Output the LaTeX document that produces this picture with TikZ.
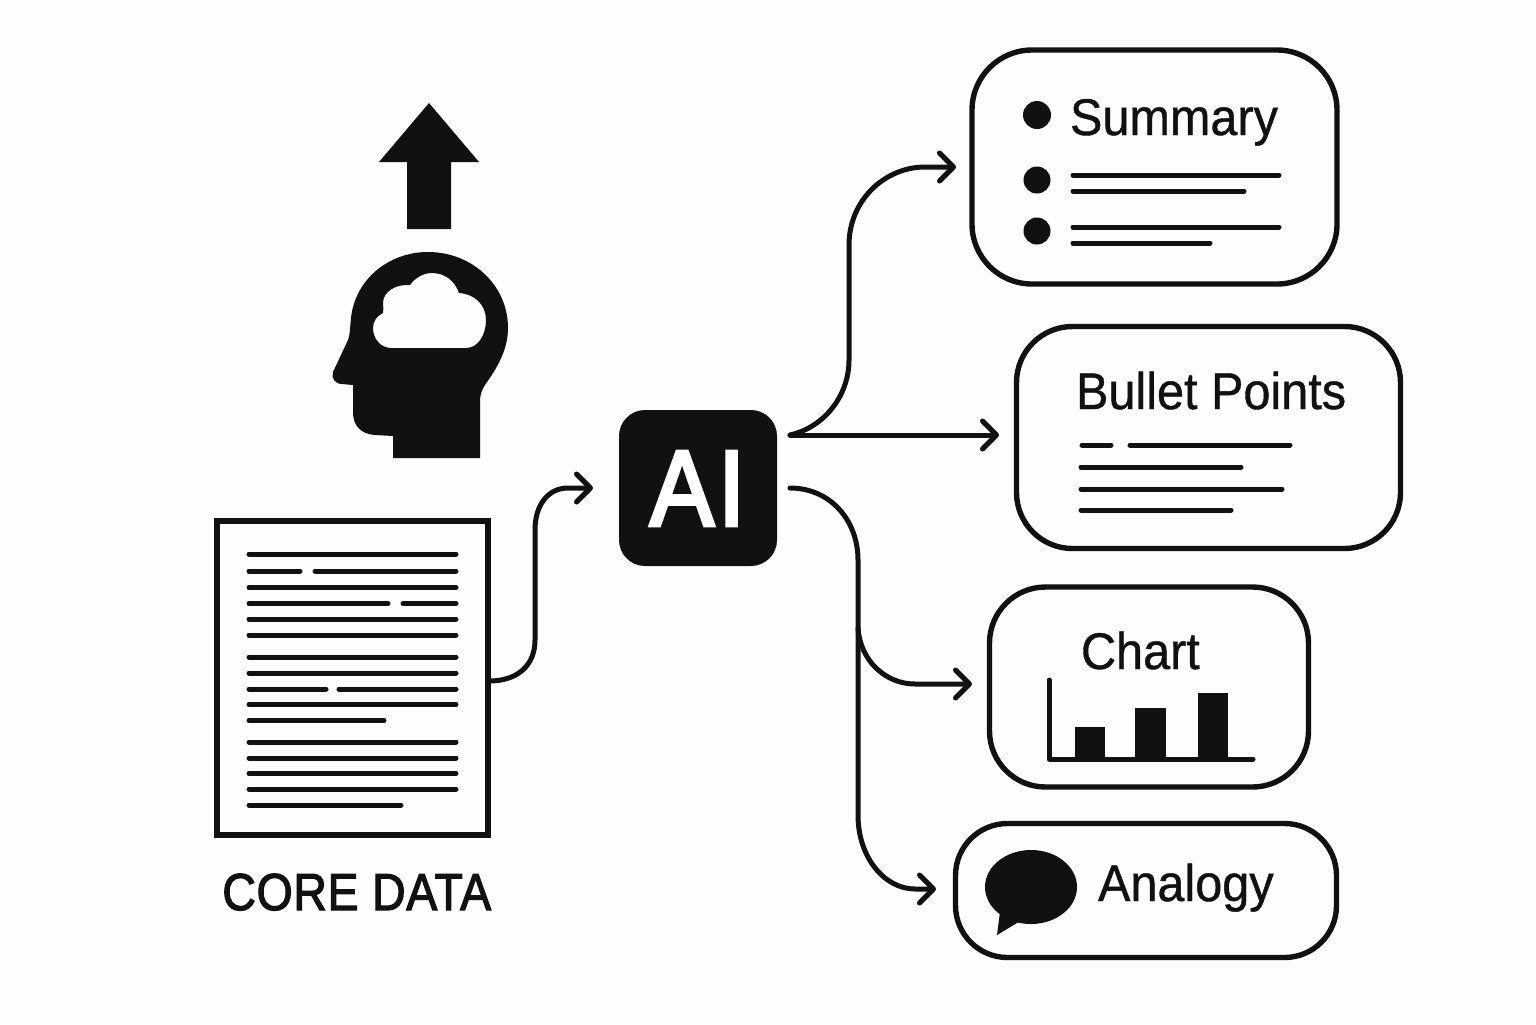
\documentclass[tikz,border=0pt]{standalone}
\usepackage{graphicx}
\usepackage{fontspec}
\setmainfont{Liberation Sans}
\newfontfamily\lightmed[FakeBold=0.8]{Liberation Sans}
\newfontfamily\coremed[FakeBold=2.5,LetterSpace=1.5]{Liberation Sans}
\newfontfamily\aimed[FakeBold=3.5]{Liberation Sans}
\newcommand{\tallabel}[1]{\scalebox{1}[1.06]{#1}}
\usetikzlibrary{arrows.meta}
\definecolor{ink}{HTML}{111111}
\definecolor{paper}{HTML}{FDFDFD}
\tikzset{
  x=0.5pt,y=-0.5pt,
  box/.style={draw=ink,line width=2.7pt,fill=none,inner sep=0pt,outer sep=0pt},
  conn/.style={draw=ink,line width=2.5pt,line cap=round,line join=round},
  arr/.style={conn,-{Straight Barb[length=7pt,width=14pt,round]}},
  rule/.style={draw=ink,line width=2.5pt,line cap=round},
  solid ink/.style={fill=ink,draw=none},
  lab/.style={anchor=base west,inner sep=0pt,outer sep=0pt,text=ink,font=\lightmed\fontsize{24.3}{24}\selectfont},
}
\begin{document}
\begin{tikzpicture}
\useasboundingbox (0,0) rectangle (1536,1024);
\fill[paper] (0,0) rectangle (1536,1024);

% up arrow
\fill[ink] (429,103) -- (479,162) -- (451,162) -- (451,229) -- (407,229) -- (407,162) -- (379,162) -- cycle;

% head with cloud cutout
\path[solid ink,even odd rule]
 (393,458) -- (393,436) -- (375,435)
 .. controls (360,434) and (353,425) .. (353,412)
 -- (353,385) -- (342,384)
 .. controls (335,384) and (331,378) .. (333,372)
 -- (348,340)
 .. controls (350,335) and (350,328) .. (351,318)
 .. controls (355,280) and (388,252) .. (428,252)
 .. controls (472,252) and (508,285) .. (508,328)
 .. controls (508,350) and (497,368) .. (485,385)
 .. controls (481,391) and (480,396) .. (480,402)
 -- (480,458) -- cycle
 (391,348) -- (466,348)
 .. controls (478,348) and (486,335) .. (486,320)
 .. controls (486,305) and (475,294) .. (459,293)
 .. controls (455,281) and (445,273) .. (432,273)
 .. controls (423,273) and (415,278) .. (410,285)
 .. controls (395,284) and (383,292) .. (383,303)
 .. controls (383,307) and (384,310) .. (383,313)
 .. controls (377,316) and (373,321) .. (373,328)
 .. controls (373,339) and (381,348) .. (391,348) -- cycle;

% document
\node[box,minimum width=135.5pt,minimum height=157pt] (doc) at (352.5,678) {};
\foreach \yy/\xa/\xb in {554/249/456,571/249/300,571/315/456,587.5/249/456,603.5/249/388,603.5/403/456,619/249/456,635/249/456,657/249/456,673/249/456,689/249/326,689/339/456,704.5/249/456,720.5/249/384,742/249/456,758/249/456,773.5/249/456,789/249/456,805/249/401}
  \draw[rule] (\xa,\yy) -- (\xb,\yy);
\node[anchor=base west,inner sep=0pt,text=ink,font=\coremed\fontsize{23.2}{23}\selectfont] (core) at (222,910) {\scalebox{1}[1.12]{CORE DATA}};

% AI node
\node[fill=ink,draw=none,rounded corners=13pt,minimum width=79pt,minimum height=78pt,inner sep=0pt] (ai) at (698,488) {};
\node[anchor=base,inner sep=0pt,text=white,font=\aimed\fontsize{48}{50}\selectfont] (ailabel) at (697.5,525.5) {\scalebox{1}[1.12]{A\kern2.2pt I}};

% output boxes
\node[box,rounded corners=30pt,minimum width=182.5pt,minimum height=117pt] (summary) at (1154.5,167) {};
\node[box,rounded corners=28pt,minimum width=192pt,minimum height=111pt] (bullet) at (1208.5,437.5) {};
\node[box,rounded corners=28pt,minimum width=159.5pt,minimum height=100pt] (chart) at (1149,687) {};
\node[box,rounded corners=26pt,minimum width=190.5pt,minimum height=67pt] (analogy) at (1146,890.5) {};

% summary contents
\node[lab] (t1) at (1070,135) {\tallabel{Summary}};
\fill[ink] (1037,115) circle[radius=14];
\fill[ink] (1037,180) circle[radius=13.5];
\fill[ink] (1037,231) circle[radius=13.5];
\draw[rule] (1073,175) -- (1279,175);
\draw[rule] (1073,191) -- (1244,191);
\draw[rule] (1073,227) -- (1279,227);
\draw[rule] (1073,243) -- (1210,243);

% bullet contents
\node[lab] (t2) at (1076,409) {\tallabel{Bullet Points}};
\draw[rule] (1082,445) -- (1111,445);
\draw[rule] (1130,445) -- (1290,445);
\draw[rule] (1081,467) -- (1241,467);
\draw[rule] (1081,489) -- (1282,489);
\draw[rule] (1081,510) -- (1231,510);

% chart contents
\node[lab] (t3) at (1081,669) {\tallabel{Chart}};
\draw[rule,line join=round] (1049,680) -- (1049,759) -- (1253,759);
\fill[ink] (1075,727) rectangle (1105,759);
\fill[ink] (1135,708) rectangle (1166,759);
\fill[ink] (1198,693) rectangle (1228,759);

% analogy contents
\node[lab] (t4) at (1098,901) {\tallabel{Analogy}};
\fill[ink] (1031,887) ellipse[x radius=46,y radius=37];
\fill[ink,line join=round] (1000,912) -- (997,935) -- (1022,920) -- cycle;

% connectors
\coordinate (docout) at (489,681);
\coordinate (aiin) at (593,488);
\coordinate (aiA) at (790,435);
\coordinate (aiB) at (790,488);
\coordinate (branch) at (858,628);
\coordinate (sumin) at (956,167);
\coordinate (bulin) at (999,435);
\coordinate (chin) at (972,684);
\coordinate (anin) at (936,889);

\draw[arr] (docout) .. controls (518,681) and (535,665) .. (535,640)
  -- (535,530) .. controls (535,505) and (548,488) .. (568,488) -- (aiin);
\draw[arr] (aiA) .. controls (825,427) and (849,395) .. (849,360)
  -- (849,245) .. controls (849,200) and (885,167) .. (925,167) -- (sumin);
\draw[arr] (aiA) -- (bulin);
\draw[arr] (aiB) .. controls (830,488) and (858,520) .. (858,560)
  -- (858,815) .. controls (858,858) and (885,889) .. (915,889) -- (anin);
\draw[arr] (branch) .. controls (860,660) and (885,684) .. (915,684) -- (chin);
\end{tikzpicture}
\end{document}
